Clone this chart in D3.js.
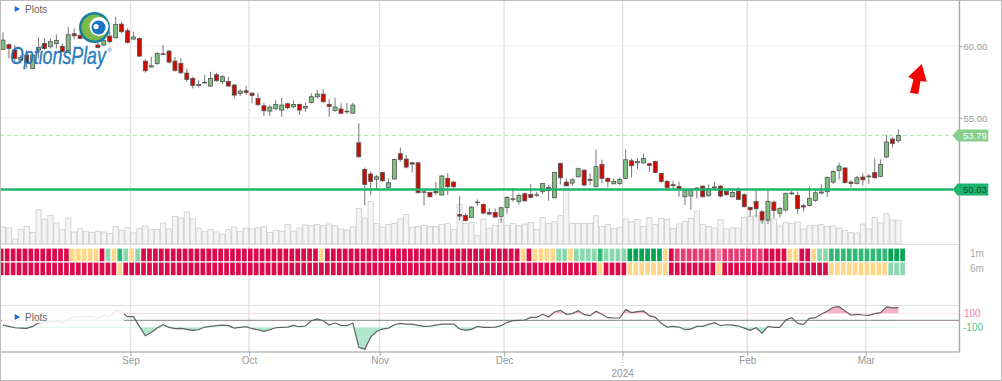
<!DOCTYPE html>
<html lang="en">
<head>
    <meta charset="UTF-8">
    <title>Candlestick chart</title>
    <script src="https://cdn.jsdelivr.net/npm/d3@7"></script>
    <style>
        html, body { margin: 0; background: #fff; }
        svg { display: block; }
        text { font-family: "Liberation Sans", Arial, sans-serif; }
        .axis text { fill: #999; font-size: 10px; }
        .axis.price text { font-size: 9.5px; }
        .axis path { display: none; }
        .axis line { stroke: #aaa; }
    </style>
</head>
<body>
<script type="text/javascript">
    // price candles, one per trading day from Aug 2023 to Mar 2024
    const opens = [59.76,60.09,59.72,59.02,59.37,58.44,59.72,60.18,59.95,60.16,
        59.97,59.67,60.85,60.74,60.60,60.92,60.07,60.07,60.69,60.57,
        61.52,61.06,60.48,60.53,58.95,58.54,58.79,59.46,59.65,58.95,
        58.79,58.12,57.75,57.26,57.45,57.22,58.00,57.52,57.54,57.29,
        56.69,56.89,56.73,56.36,55.85,55.48,55.64,55.55,55.99,55.78,
        55.94,55.69,56.08,56.48,56.66,55.94,55.53,55.63,55.45,55.33,
        53.28,51.43,51.11,50.74,51.22,50.18,50.76,52.52,52.15,51.89,
        51.89,49.86,49.83,49.90,49.65,50.81,50.55,48.30,48.24,48.10,
        49.14,49.00,48.44,48.44,48.17,48.79,49.37,49.21,49.74,49.69,
        49.65,49.88,50.18,49.46,51.85,50.55,50.48,50.92,51.38,50.74,
        50.23,51.78,50.81,50.43,50.46,50.81,52.03,51.89,51.89,51.82,
        51.99,51.15,50.60,50.37,50.25,49.53,49.58,50.09,50.27,49.60,
        50.16,50.27,49.90,49.53,49.93,49.67,48.79,49.21,48.49,47.91,
        49.16,48.38,48.61,49.79,49.63,48.91,48.93,49.28,49.79,49.88,
        50.55,51.36,51.53,50.55,50.44,50.90,50.92,51.22,50.95,52.29,
        53.54,53.42];
    const highs = [60.94,60.18,60.07,59.37,59.49,59.49,60.60,60.53,60.53,60.81,
        60.18,61.34,61.22,60.88,61.00,61.11,60.30,60.88,60.99,62.03,
        61.69,61.22,60.99,60.60,59.07,59.25,59.60,60.07,59.72,59.25,
        59.14,58.44,57.87,57.63,57.98,58.21,58.14,57.98,57.87,57.36,
        56.99,57.22,56.75,56.75,56.06,55.90,56.24,56.41,56.06,56.24,
        56.01,56.06,56.71,56.94,56.99,56.34,56.41,56.02,56.04,56.06,
        54.63,51.57,51.27,51.04,51.27,50.81,52.19,52.96,52.43,51.96,
        51.92,50.11,49.88,50.57,51.04,51.15,50.64,49.58,48.37,48.88,
        49.35,49.07,48.72,48.72,48.84,49.58,50.13,49.76,49.81,50.41,
        49.88,50.50,50.34,51.27,51.89,50.81,50.81,51.55,51.43,51.15,
        52.82,52.12,50.87,50.81,50.87,52.82,52.19,52.19,52.54,51.89,
        52.03,51.20,50.69,50.65,50.58,50.11,50.11,50.18,50.34,50.39,
        50.58,50.34,50.11,50.00,50.18,49.77,48.84,50.00,48.61,50.00,
        49.26,48.84,49.81,49.95,49.88,49.02,50.23,50.00,50.39,50.92,
        51.39,51.90,51.57,50.69,50.97,51.15,51.11,52.20,52.13,53.82,
        53.65,54.21];
    const lows = [59.72,59.14,58.91,58.79,58.44,58.44,59.14,59.72,59.83,59.83,
        59.60,59.60,60.46,60.46,60.46,60.41,59.83,60.00,60.18,60.53,
        60.88,60.18,60.46,59.25,58.14,58.49,58.68,59.37,58.79,58.21,
        58.05,57.52,57.06,57.12,57.40,57.17,57.52,57.36,57.17,56.36,
        56.52,56.59,56.01,55.83,55.13,55.13,55.55,55.09,55.60,55.67,
        55.20,55.43,56.01,56.36,56.06,55.09,55.43,55.28,55.28,55.28,
        52.26,48.95,49.65,50.00,50.57,50.11,50.74,51.96,51.50,51.20,
        49.76,48.95,49.49,49.65,49.65,49.65,50.04,47.87,47.82,48.05,
        48.88,48.31,48.28,48.10,47.73,48.37,49.18,48.98,49.16,49.42,
        49.53,49.72,49.25,49.42,50.39,50.23,50.30,50.87,50.30,50.34,
        50.18,50.50,50.18,50.39,50.34,50.74,50.87,51.45,51.80,51.27,
        51.20,50.50,50.04,49.99,49.53,48.96,48.61,49.42,49.49,49.53,
        50.04,49.49,49.63,49.49,49.30,48.79,48.15,48.10,47.64,47.64,
        48.03,48.10,48.49,49.65,48.33,48.49,48.84,49.19,49.70,49.53,
        50.41,50.74,50.46,50.18,50.39,50.30,50.41,50.81,50.88,52.24,
        52.96,53.28];
    const closes = [60.41,59.83,59.14,59.21,58.84,59.37,59.90,59.83,60.30,60.39,
        59.60,60.78,60.71,60.53,60.81,60.64,59.90,60.37,60.30,61.50,
        60.99,60.25,60.62,59.30,58.28,58.63,59.49,59.42,58.88,58.31,
        58.14,57.68,57.26,57.33,57.47,57.75,57.59,57.87,57.22,56.59,
        56.87,56.78,56.57,55.92,55.50,55.76,55.94,55.90,55.71,55.94,
        55.55,55.80,56.48,56.66,56.13,55.80,55.76,55.33,55.47,55.90,
        52.31,50.39,50.60,50.92,50.64,50.50,52.12,52.12,51.59,51.80,
        49.81,49.88,49.53,49.81,50.97,50.23,50.23,48.19,47.87,48.81,
        49.16,48.40,48.33,48.12,48.77,49.49,49.39,49.62,49.25,49.49,
        49.67,50.46,49.95,51.22,50.85,50.30,50.71,51.48,50.34,50.67,
        51.62,50.81,50.60,50.60,50.74,52.10,51.69,51.99,52.19,51.71,
        51.22,50.60,50.18,50.30,50.04,50.00,50.04,50.14,49.53,50.11,
        50.21,49.58,49.67,49.83,49.35,48.84,48.63,48.70,47.91,49.21,
        48.58,48.72,49.77,49.74,48.70,48.82,49.42,49.81,49.86,50.88,
        51.29,51.66,50.51,50.46,50.85,50.71,50.97,50.85,51.78,53.33,
        53.24,53.79];

    // volume, arbitrary units
    const volumes = [51,48,15,43,53,35,103,75,85,63,
        43,78,36,46,38,35,38,36,32,52,
        41,50,33,47,54,43,43,63,45,83,
        78,96,75,48,38,43,36,30,43,51,
        37,48,45,49,52,35,41,38,59,39,
        48,57,55,59,55,60,55,45,42,51,
        107,78,127,62,50,58,62,75,89,50,
        53,56,53,53,58,62,44,118,62,65,
        25,75,47,56,74,56,62,56,60,65,
        44,80,62,67,86,182,62,62,62,62,
        85,53,58,47,49,75,67,74,53,80,
        58,77,74,47,60,68,77,98,58,53,
        48,73,45,48,48,80,83,85,68,70,
        75,54,65,62,66,45,56,56,58,53,
        54,47,40,34,33,60,45,80,63,91,
        72,71];

    // CCI oscillator
    const cci = [-69,-88,-108,-113,-118,-88,-39,-25,-25,-15,
        -34,20,44,49,54,59,25,74,59,157,
        123,54,54,-88,-225,-176,-113,-64,-103,-122,
        -118,-132,-147,-137,-98,-88,-78,-69,-78,-113,
        -103,-93,-122,-137,-162,-137,-108,-103,-98,-74,
        -93,-83,-5,20,-5,-69,-39,-74,-78,-39,
        -392,-421,-245,-162,-127,-113,-64,-44,-54,-54,
        -74,-88,-83,-69,-54,-54,-54,-127,-147,-132,
        -88,-103,-103,-98,-78,-29,-5,0,5,44,
        44,88,49,123,147,88,98,142,83,69,
        132,88,39,34,34,157,113,127,137,69,
        44,-44,-98,-88,-98,-137,-127,-88,-88,-59,
        -34,-78,-64,-69,-83,-113,-147,-108,-186,-88,
        -103,-103,5,39,-44,-59,29,39,88,137,
        191,201,137,78,88,78,74,98,113,196,
        181,186];

    // heat rows: R red, M mid red, P pink, Y yellow, L light green, G green, D dark green
    const row1m = ("RRRRRRRRRRRR" + "YYYYY" + "RLYGLYL"
        + "RRRRRRRRRR" + "RRRRRRRRRR" + "RRRRRRRRRR" + "Y"
        + "RRRRRRRRRR" + "RRRRRRRRRR" + "RRRRRRRRRR" + "RRR"
        + "YRYYYYLLY" + "LLLLGLLLL" + "DDDDDD" + "YR"
        + "MMMMMMMPMMMMMMM" + "RRRRYYRRYLL" + "GGGGGGGGGG" + "DDD").split("");
    const row6m = ("RRRRRRRRRR" + "RRRRRRRRRR" + "Y"
        + "RRRRRRRRRR" + "RRRRRRRRRR" + "RRRRRRRRRR" + "RRRRRRRRRR"
        + "RRRRRRRRRR" + "RRRRRRRRRR" + "RRRRRRRRRR" + "RRRRRRRRRR"
        + "Y" + "RRRR" + "YYYYYYY" + "RRRRRRRR" + "Y"
        + "RRRRRRRRRR" + "RRRRRRRR" + "YYYYYYYYYY" + "LLL").split("");

    const stateKeys = ["R", "M", "P", "Y", "L", "G", "D"];
    const stateColors = ["#dc0a4b", "#e63d72", "#ef7fa2", "#fdd88a", "#8ad8ae", "#2fb974", "#04a552"];

    const tickIndexes = [22, 42, 64, 85, 105, 126, 146];
    const tickLabels = ["Sep", "Oct", "Nov", "Dec", "", "Feb", "Mar"];
    const priceTicks = [55, 60];
    const lastPrice = 53.79;
    const supportPrice = 50.03;
    const cciLevels = [100, -100];

    const width = 1002, height = 381, plotRight = 959.5, plotBottom = 352;

    const svg = d3.select("body").append("svg")
        .attr("width", width)
        .attr("height", height);

    const x = d3.scaleLinear().domain([0, 152]).range([0.03, 901.39]);
    const y = d3.scaleLinear().domain([55, 60]).range([118, 46]);
    const yVol = d3.scaleLinear().domain([0, 252]).range([244, 160]);
    const yCci = d3.scaleLinear().domain([-100, 100]).range([327.2, 313.5]);
    const stateColor = d3.scaleOrdinal().domain(stateKeys).range(stateColors);
    const days = d3.range(closes.length);

    /*grid*/
    const grid = svg.append("g");
    grid.selectAll("line.v").data(tickIndexes).enter().append("line")
        .attr("x1", d => x(d)).attr("x2", d => x(d))
        .attr("y1", 0).attr("y2", plotBottom)
        .attr("stroke", "#e1e1e1").attr("stroke-width", 1.4);
    grid.selectAll("line.h").data(priceTicks).enter().append("line")
        .attr("x1", 0).attr("x2", plotRight)
        .attr("y1", d => y(d)).attr("y2", d => y(d))
        .attr("stroke", "#efefef");

    /*volume*/
    svg.append("g").selectAll("rect").data(days).enter().append("rect")
        .attr("x", d => x(d + 0.5) - 2.6)
        .attr("y", d => yVol(volumes[d]))
        .attr("width", 5.2)
        .attr("height", d => yVol(0) - yVol(volumes[d]))
        .attr("fill", "#f4f4f4")
        .attr("stroke", "#cdcdcd")
        .attr("stroke-width", 0.8);
    svg.append("line")
        .attr("x1", 0).attr("x2", plotRight).attr("y1", 244.5).attr("y2", 244.5)
        .attr("stroke", "#ddd");

    /*price level lines*/
    svg.append("line")
        .attr("x1", 0).attr("x2", 953).attr("y1", y(lastPrice)).attr("y2", y(lastPrice))
        .attr("stroke", "#aee3ae").attr("stroke-dasharray", "4 3");

    /*candles*/
    const candles = svg.append("g");
    candles.selectAll("line").data(days).enter().append("line")
        .attr("x1", d => x(d + 0.5)).attr("x2", d => x(d + 0.5))
        .attr("y1", d => y(highs[d])).attr("y2", d => y(lows[d]))
        .attr("stroke", "#777");
    candles.selectAll("rect").data(days).enter().append("rect")
        .attr("x", d => x(d + 0.5) - 2)
        .attr("y", d => y(Math.max(opens[d], closes[d])))
        .attr("width", 4)
        .attr("height", d => Math.max(0.6, Math.abs(y(opens[d]) - y(closes[d]))))
        .attr("fill", d => closes[d] >= opens[d] ? "#80c080" : "#cc0a00")
        .attr("stroke", "#555")
        .attr("stroke-width", 0.8);

    svg.append("line")
        .attr("x1", 0).attr("x2", 953).attr("y1", y(supportPrice)).attr("y2", y(supportPrice))
        .attr("stroke", "#1db56d").attr("stroke-width", 2.6);

    /*heat rows*/
    [[row1m, 248.6], [row6m, 262.6]].forEach(function (row) {
        svg.append("g").selectAll("rect").data(row[0]).enter().append("rect")
            .attr("x", (d, i) => Math.max(1, x(i + 0.2) - 2.35))
            .attr("y", row[1])
            .attr("width", (d, i) => x(i + 0.2) + 2.35 - Math.max(1, x(i + 0.2) - 2.35))
            .attr("height", 12.6)
            .attr("fill", d => stateColor(d));
    });

    /*oscillator*/
    svg.append("line")
        .attr("x1", 0).attr("x2", plotRight).attr("y1", 305.5).attr("y2", 305.5)
        .attr("stroke", "#ddd");
    svg.selectAll("line.level").data(cciLevels).enter().append("line")
        .attr("x1", 0).attr("x2", plotRight)
        .attr("y1", d => yCci(d)).attr("y2", d => yCci(d))
        .attr("stroke", d => d > 0 ? "#fbe6ec" : "#e6f6ee");
    svg.append("line")
        .attr("x1", 0).attr("x2", plotRight).attr("y1", yCci(0)).attr("y2", yCci(0))
        .attr("stroke", "#999").attr("stroke-width", 1.1);

    const defs = svg.append("defs");
    defs.append("clipPath").attr("id", "above")
        .append("rect").attr("x", 0).attr("y", 290).attr("width", plotRight).attr("height", yCci(100) - 290);
    defs.append("clipPath").attr("id", "below")
        .append("rect").attr("x", 0).attr("y", yCci(-100)).attr("width", plotRight).attr("height", plotBottom - yCci(-100));

    svg.append("path").datum(days)
        .attr("clip-path", "url(#above)")
        .attr("fill", "#f6b3c8")
        .attr("d", d3.area().x(d => x(d + 0.5)).y0(yCci(100)).y1(d => yCci(cci[d])));
    svg.append("path").datum(days)
        .attr("clip-path", "url(#below)")
        .attr("fill", "#b0e6cc")
        .attr("d", d3.area().x(d => x(d + 0.5)).y0(yCci(-100)).y1(d => yCci(cci[d])));
    svg.append("path").datum(days)
        .attr("fill", "none")
        .attr("stroke", "#606060")
        .attr("stroke-width", 1.2)
        .attr("d", d3.line().x(d => x(d + 0.5)).y(d => yCci(cci[d])));

    // the legend box fades whatever sits under it
    svg.append("rect")
        .attr("x", 2).attr("y", 306).attr("width", 122).attr("height", 17)
        .attr("fill", "#fff").attr("opacity", 0.88);

    svg.append("line")
        .attr("x1", 0).attr("x2", plotRight).attr("y1", plotBottom).attr("y2", plotBottom)
        .attr("stroke", "#999").attr("stroke-width", 1.2);

    /*axes*/
    const xAxis = d3.axisBottom(x)
        .tickValues(tickIndexes)
        .tickSize(4)
        .tickPadding(1)
        .tickFormat((d, i) => tickLabels[i]);
    svg.append("g").attr("class", "axis")
        .attr("transform", "translate(0," + plotBottom + ")")
        .call(xAxis);
    svg.append("line")
        .attr("x1", x(105)).attr("x2", x(105)).attr("y1", 356).attr("y2", 366)
        .attr("stroke", "#aaa").attr("stroke-dasharray", "1 2");
    svg.append("text")
        .attr("x", x(105)).attr("y", 376.5)
        .attr("text-anchor", "middle")
        .attr("fill", "#999").attr("font-size", 10)
        .text("2024");

    const yAxis = d3.axisRight(y)
        .tickValues(priceTicks)
        .tickSize(3)
        .tickPadding(1)
        .tickFormat(d3.format(".2f"));
    svg.append("g").attr("class", "axis price")
        .attr("transform", "translate(" + plotRight + ",0)")
        .call(yAxis);

    svg.append("line")
        .attr("x1", plotRight).attr("x2", plotRight).attr("y1", 0).attr("y2", plotBottom)
        .attr("stroke", "#a8a8a8").attr("stroke-width", 1.4);

    /*price tags*/
    function priceTag(value, fill, textColor) {
        const py = y(value);
        svg.append("path")
            .attr("d", "M952.7," + py + "L957.5," + (py - 6) + "H988.3V" + (py + 6) + "H957.5Z")
            .attr("fill", fill);
        svg.append("text")
            .attr("x", 963).attr("y", py + 3.4)
            .attr("fill", textColor).attr("font-size", 9.5)
            .text(value.toFixed(2));
    }
    priceTag(lastPrice, "#86cf8e", "#fff");
    priceTag(supportPrice, "#1db56d", "#0c4f30");

    /*side labels*/
    svg.selectAll("text.row").data([["1m", 256.5], ["6m", 271.5]]).enter().append("text")
        .attr("x", 970).attr("y", d => d[1])
        .attr("fill", "#aaa").attr("font-size", 10)
        .text(d => d[0]);
    svg.selectAll("text.level").data(cciLevels).enter().append("text")
        .attr("x", d => d > 0 ? 964 : 963).attr("y", d => yCci(d) + 3.5)
        .attr("fill", d => d > 0 ? "#f07fa3" : "#4fc48b")
        .attr("font-size", 10)
        .text(d => d);

    /*plots legends*/
    [[9, 12.8], [317, 321]].forEach(function (p) {
        svg.append("path")
            .attr("d", "M14.7," + (p[0] - 3) + "L20," + p[0] + "L14.7," + (p[0] + 3) + "Z")
            .attr("fill", "#1a6fd6");
        svg.append("text")
            .attr("x", 25).attr("y", p[1])
            .attr("fill", "#666").attr("font-size", 10)
            .text("Plots");
    });

    /*logo*/
    const logo = svg.append("g");
    logo.append("circle").attr("cx", 94.5).attr("cy", 27.5).attr("r", 15.5).attr("fill", "#17809f");
    logo.append("circle").attr("cx", 94.5).attr("cy", 27.5).attr("r", 13).attr("fill", "#7cb84a");
    logo.append("circle").attr("cx", 99).attr("cy", 26.5).attr("r", 9.5).attr("fill", "#fff");
    logo.append("circle").attr("cx", 98.5).attr("cy", 27.5).attr("r", 7).attr("fill", "#1a75c0");
    logo.append("circle").attr("cx", 96).attr("cy", 26.5).attr("r", 2.6).attr("fill", "#fff");
    // taller than the font's own shape, so stretch it upright
    logo.append("text")
        .attr("transform", "translate(10,64) scale(1,1.3)")
        .attr("font-size", 17.8).attr("font-style", "italic")
        .attr("fill", "#1b75bb").attr("fill-opacity", 0.95)
        .attr("stroke", "#1b75bb").attr("stroke-width", 0.3)
        .text("OptionsPlay");
    logo.append("text")
        .attr("x", 107.5).attr("y", 52)
        .attr("font-size", 6).attr("fill", "#1b75bb")
        .text("®");

    /*red arrow*/
    svg.append("path")
        .attr("d", "M921.7,64L926.7,81.7L920.5,81L918.3,94L910,92.7L913.5,79.5L908.3,76.7Z")
        .attr("fill", "#f40000");

    /*frame*/
    svg.append("rect")
        .attr("x", 0.5).attr("y", 0.5).attr("width", 1001).attr("height", 380)
        .attr("fill", "none").attr("stroke", "#bdbdbd");
</script>
</body>
</html>
